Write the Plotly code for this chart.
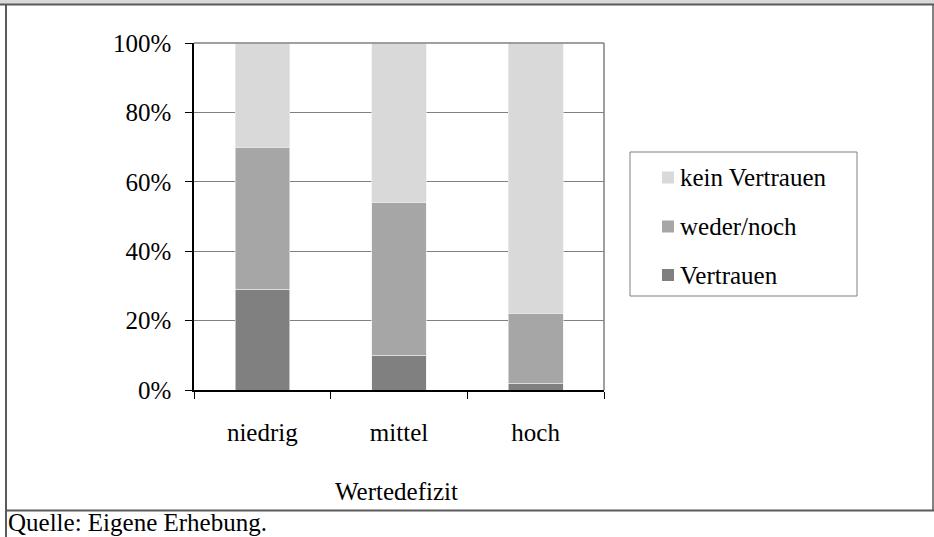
import plotly.graph_objects as go

categories = ["niedrig", "mittel", "hoch"]
vertrauen = [0.29, 0.10, 0.02]
weder_noch = [0.41, 0.44, 0.20]
kein_vertrauen = [0.30, 0.46, 0.78]
series_names = ["Vertrauen", "weder/noch", "kein Vertrauen"]
series_colors = ["#808080", "#a6a6a6", "#d9d9d9"]
y_ticks = [0, 0.2, 0.4, 0.6, 0.8, 1.0]
x_title = "Wertedefizit"
source_note = "Quelle: Eigene Erhebung."

W, H = 934, 537
L, R, T, B = 194, 604, 43, 390
FONT = "Liberation Serif, Times New Roman, serif"
FS = 25

def px(x):
    return (x - L) / (R - L)

def py(y):
    return (B - y) / (B - T)

fig = go.Figure()
for name, vals, col in zip(series_names, [vertrauen, weder_noch, kein_vertrauen], series_colors):
    fig.add_trace(go.Bar(
        x=categories, y=vals, name=name, width=0.4,
        marker=dict(color=col, line=dict(color="#eeeeee", width=0.6)),
        showlegend=False, hoverinfo="skip",
    ))

shapes = []
# page frame
shapes.append(dict(type="rect", xref="paper", yref="paper", x0=px(0), x1=px(W), y0=py(0), y1=py(4),
                   fillcolor="#d9d9d9", line=dict(width=0)))
shapes.append(dict(type="line", xref="paper", yref="paper", x0=px(0), x1=px(W), y0=py(4.5), y1=py(4.5),
                   line=dict(color="#5a5a5a", width=2)))
shapes.append(dict(type="line", xref="paper", yref="paper", x0=px(6), x1=px(6), y0=py(4), y1=py(H),
                   line=dict(color="#5a5a5a", width=2)))
shapes.append(dict(type="line", xref="paper", yref="paper", x0=px(933), x1=px(933), y0=py(4), y1=py(511),
                   line=dict(color="#5a5a5a", width=1.5)))
shapes.append(dict(type="line", xref="paper", yref="paper", x0=px(6), x1=px(W), y0=py(510.5), y1=py(510.5),
                   line=dict(color="#5a5a5a", width=2)))
# plot-area border (top / right)
shapes.append(dict(type="line", xref="paper", yref="paper", x0=0, x1=1, y0=1, y1=1,
                   line=dict(color="#808080", width=1.5)))
shapes.append(dict(type="line", xref="paper", yref="paper", x0=1, x1=1, y0=0, y1=1,
                   line=dict(color="#808080", width=1.5)))
# legend box
shapes.append(dict(type="rect", xref="paper", yref="paper", x0=px(630), x1=px(857), y0=py(152), y1=py(296),
                   line=dict(color="#808080", width=1), fillcolor="white"))

annotations = []
leg_y = [275, 226.5, 177.5]
for name, col, yc in zip(series_names, series_colors, leg_y):
    shapes.append(dict(type="rect", xref="paper", yref="paper", x0=px(662), x1=px(674),
                       y0=py(yc - 6), y1=py(yc + 6), fillcolor=col, line=dict(width=0)))
    annotations.append(dict(text=name, xref="paper", yref="paper", x=px(678), y=py(yc),
                            xanchor="left", yanchor="middle", showarrow=False,
                            font=dict(family=FONT, size=FS, color="black")))

annotations.append(dict(text=x_title, xref="paper", yref="paper", x=px(396), y=py(491),
                        xanchor="center", yanchor="middle", showarrow=False,
                        font=dict(family=FONT, size=FS, color="black")))
annotations.append(dict(text=source_note, xref="paper", yref="paper", x=px(6), y=py(522),
                        xanchor="left", yanchor="middle", showarrow=False,
                        font=dict(family=FONT, size=25, color="black")))

fig.update_layout(
    width=W, height=H,
    margin=dict(l=L, r=W - R, t=T, b=H - B, pad=0),
    barmode="stack", bargap=0.6,
    plot_bgcolor="white", paper_bgcolor="white",
    font=dict(family=FONT, size=FS, color="black"),
    shapes=shapes, annotations=annotations,
    showlegend=False, hovermode=False,
)
fig.update_xaxes(
    type="category", tickson="boundaries", ticks="outside", ticklen=7, tickcolor="black",
    showline=True, linecolor="black", linewidth=1.5, showgrid=False,
    tickfont=dict(family=FONT, size=FS, color="black"), ticklabelstandoff=19,
)
fig.update_yaxes(
    range=[0, 1], tickvals=y_ticks, tickformat=".0%", ticks="outside", ticklen=7, tickcolor="black",
    showline=True, linecolor="black", linewidth=1.5, showgrid=True, gridcolor="#808080", gridwidth=1,
    zeroline=False, tickfont=dict(family=FONT, size=FS, color="black"), ticklabelstandoff=9,
)

fig.write_html("out.html", config={"displayModeBar": False},
               post_script="document.body.style.margin='0';document.body.style.overflow='hidden';")
